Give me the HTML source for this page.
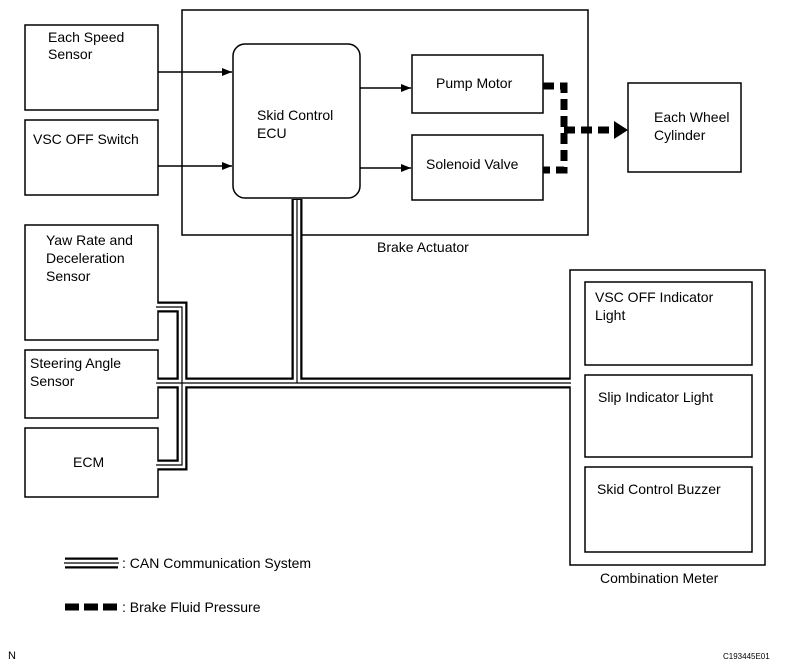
<!DOCTYPE html>
<html><head><style>
body{margin:0;background:#fff;}
svg{display:block;font-family:"Liberation Sans",Arial,sans-serif;}
text{font-size:14px;fill:#000;}
</style></head><body>
<svg width="789" height="667" viewBox="0 0 789 667">
<defs><marker id="a" markerWidth="10" markerHeight="8" refX="10" refY="4" orient="auto" markerUnits="userSpaceOnUse"><path d="M0,0 L10,4 L0,8 z" fill="#000"/></marker></defs>
<g fill="none" stroke="#000" stroke-width="1.5">
<rect x="25" y="25" width="133" height="85"/>
<rect x="25" y="120" width="133" height="75"/>
<rect x="25" y="225" width="133" height="115"/>
<rect x="25" y="350" width="133" height="68"/>
<rect x="25" y="428" width="133" height="69"/>
<rect x="182" y="10" width="406" height="225"/>
<rect x="233" y="44" width="127" height="154" rx="12"/>
<rect x="412" y="55" width="131" height="58"/>
<rect x="412" y="135" width="131" height="65"/>
<rect x="628" y="83" width="113" height="89"/>
<rect x="570" y="270" width="195" height="295"/>
<rect x="585" y="282" width="167" height="83"/>
<rect x="585" y="375" width="167" height="82"/>
<rect x="585" y="467" width="167" height="85"/>
<line x1="158" y1="72" x2="232" y2="72" marker-end="url(#a)"/>
<line x1="158" y1="166" x2="232" y2="166" marker-end="url(#a)"/>
<line x1="360" y1="88" x2="411" y2="88" marker-end="url(#a)"/>
<line x1="360" y1="168" x2="411" y2="168" marker-end="url(#a)"/>
</g>
<g fill="none" stroke-linejoin="miter">
<g stroke="#000" stroke-width="11">
<path d="M158,307 H182 V465 H158"/>
<path d="M158,383 H570"/>
<path d="M297,199 V383"/>
<path d="M65,563 H118"/>
</g>
<g stroke="#fff" stroke-width="6.5">
<path d="M156,307 H182 V465 H156"/>
<path d="M156,383 H571"/>
<path d="M297,200 V383"/>
<path d="M64,563 H119"/>
</g>
<g stroke="#000" stroke-width="1.2">
<path d="M156,307 H182 V465 H156"/>
<path d="M156,383 H571"/>
<path d="M297,200 V383"/>
<path d="M64,563 H119"/>
</g>
</g>
<g fill="none" stroke="#000" stroke-width="7">
<path d="M543,86 H564 V170 H543" stroke-dasharray="11,6"/>
<path d="M564,130 H618" stroke-dasharray="11,6"/>
<path d="M65,607 H118" stroke-dasharray="14,5"/>
</g>
<path d="M614,121 L628,130 L614,139 z" fill="#000"/>
<text x="48" y="42">Each Speed</text><text x="48" y="59">Sensor</text>
<text x="33" y="144">VSC OFF Switch</text>
<text x="46" y="245">Yaw Rate and</text><text x="46" y="263">Deceleration</text><text x="46" y="281">Sensor</text>
<text x="30" y="368">Steering Angle</text><text x="30" y="386">Sensor</text>
<text x="73" y="467">ECM</text>
<text x="257" y="120">Skid Control</text><text x="257" y="138">ECU</text>
<text x="436" y="88">Pump Motor</text>
<text x="426" y="169">Solenoid Valve</text>
<text x="654" y="122">Each Wheel</text>
<text x="654" y="140">Cylinder</text>
<text x="377" y="252">Brake Actuator</text>
<text x="595" y="302">VSC OFF Indicator</text><text x="595" y="320">Light</text>
<text x="598" y="402">Slip Indicator Light</text>
<text x="597" y="494">Skid Control Buzzer</text>
<text x="600" y="583">Combination Meter</text>
<text x="122" y="568">:  CAN Communication System</text>
<text x="122" y="612">:  Brake Fluid Pressure</text>
<text x="8" y="659" style="font-size:11px">N</text>
<text x="723" y="659" style="font-size:8px">C193445E01</text>
</svg>
</body></html>
